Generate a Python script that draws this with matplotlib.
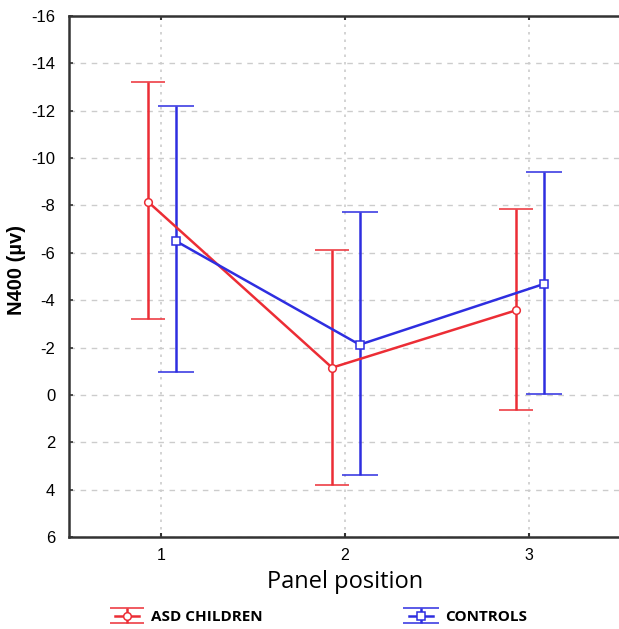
import matplotlib
matplotlib.use("Agg")
import matplotlib.pyplot as plt
import numpy as np

positions = [1, 2, 3]
asd_mean = [-8.15, -1.15, -3.57]
asd_upper = [-13.2, -6.13, -7.86]
asd_lower = [-3.2, 3.8, 0.65]
ctl_mean = [-6.5, -2.12, -4.68]
ctl_upper = [-12.2, -7.73, -9.42]
ctl_lower = [-0.95, 3.4, -0.05]
y_ticks = [-16, -14, -12, -10, -8, -6, -4, -2, 0, 2, 4, 6]

red = "#ec2d35"
blue = "#2e2ee0"

plt.rcParams['font.family'] = ['Liberation Sans', 'DejaVu Sans']

fig = plt.figure(figsize=(6.19, 6.29), dpi=100)
ax = fig.add_axes([0.1115, 0.1463, 0.8915, 0.8283])

x = np.array(positions, dtype=float)
asd_err = [np.array(asd_mean) - np.array(asd_upper), np.array(asd_lower) - np.array(asd_mean)]
ctl_err = [np.array(ctl_mean) - np.array(ctl_upper), np.array(ctl_lower) - np.array(ctl_mean)]

h1 = ax.errorbar(x - 0.07, asd_mean, yerr=asd_err, color=red, lw=1.8,
                 marker='o', ms=5.5, mfc='white', mec=red, mew=1.1,
                 capsize=12, capthick=1.8, elinewidth=1.8, zorder=3)
h2 = ax.errorbar(x + 0.08, ctl_mean, yerr=ctl_err, color=blue, lw=1.8,
                 marker='s', ms=5.5, mfc='white', mec=blue, mew=1.1,
                 capsize=13, capthick=1.8, elinewidth=1.8, zorder=3)

ax.set_xlim(0.5, 3.5)
ax.set_ylim(6, -16)
ax.set_xticks(positions)
ax.set_yticks(y_ticks)
ax.set_yticklabels([str(t) for t in y_ticks], fontsize=12)
ax.set_xticklabels([str(p) for p in positions], fontsize=11.5)
ax.tick_params(axis='y', direction='in', length=3, width=1.2, pad=10, color='#333333')
ax.tick_params(axis='x', direction='in', length=3, width=1.5, top=True, pad=8, color='#333333')

ax.yaxis.grid(True, linestyle=(0, (4, 4)), color='#cccccc', lw=1)
ax.xaxis.grid(True, linestyle=(0, (1.5, 3)), color='#cccccc', lw=1.2)
ax.set_axisbelow(True)

for s in ['left', 'bottom', 'top']:
    ax.spines[s].set_linewidth(1.8)
    ax.spines[s].set_color('#333333')
ax.spines['right'].set_visible(False)

ax.set_ylabel('N400 (µv)', fontsize=14.5, fontweight='bold')
ax.yaxis.set_label_coords(-0.078, 0.512)
ax.set_xlabel('Panel position', fontsize=17, family=['Open Sans', 'DejaVu Sans'], labelpad=5)

leg_font = {'family': ['Open Sans', 'DejaVu Sans'], 'weight': 'bold', 'size': 11}
fig.legend([h1], ['ASD CHILDREN'], loc='center left', bbox_to_anchor=(0.163, 0.019),
           frameon=False, prop=leg_font, handlelength=1.6, handletextpad=0.8)
fig.legend([h2], ['CONTROLS'], loc='center left', bbox_to_anchor=(0.638, 0.019),
           frameon=False, prop=leg_font, handlelength=1.6, handletextpad=0.8)

fig.savefig('out.png', dpi=100)
